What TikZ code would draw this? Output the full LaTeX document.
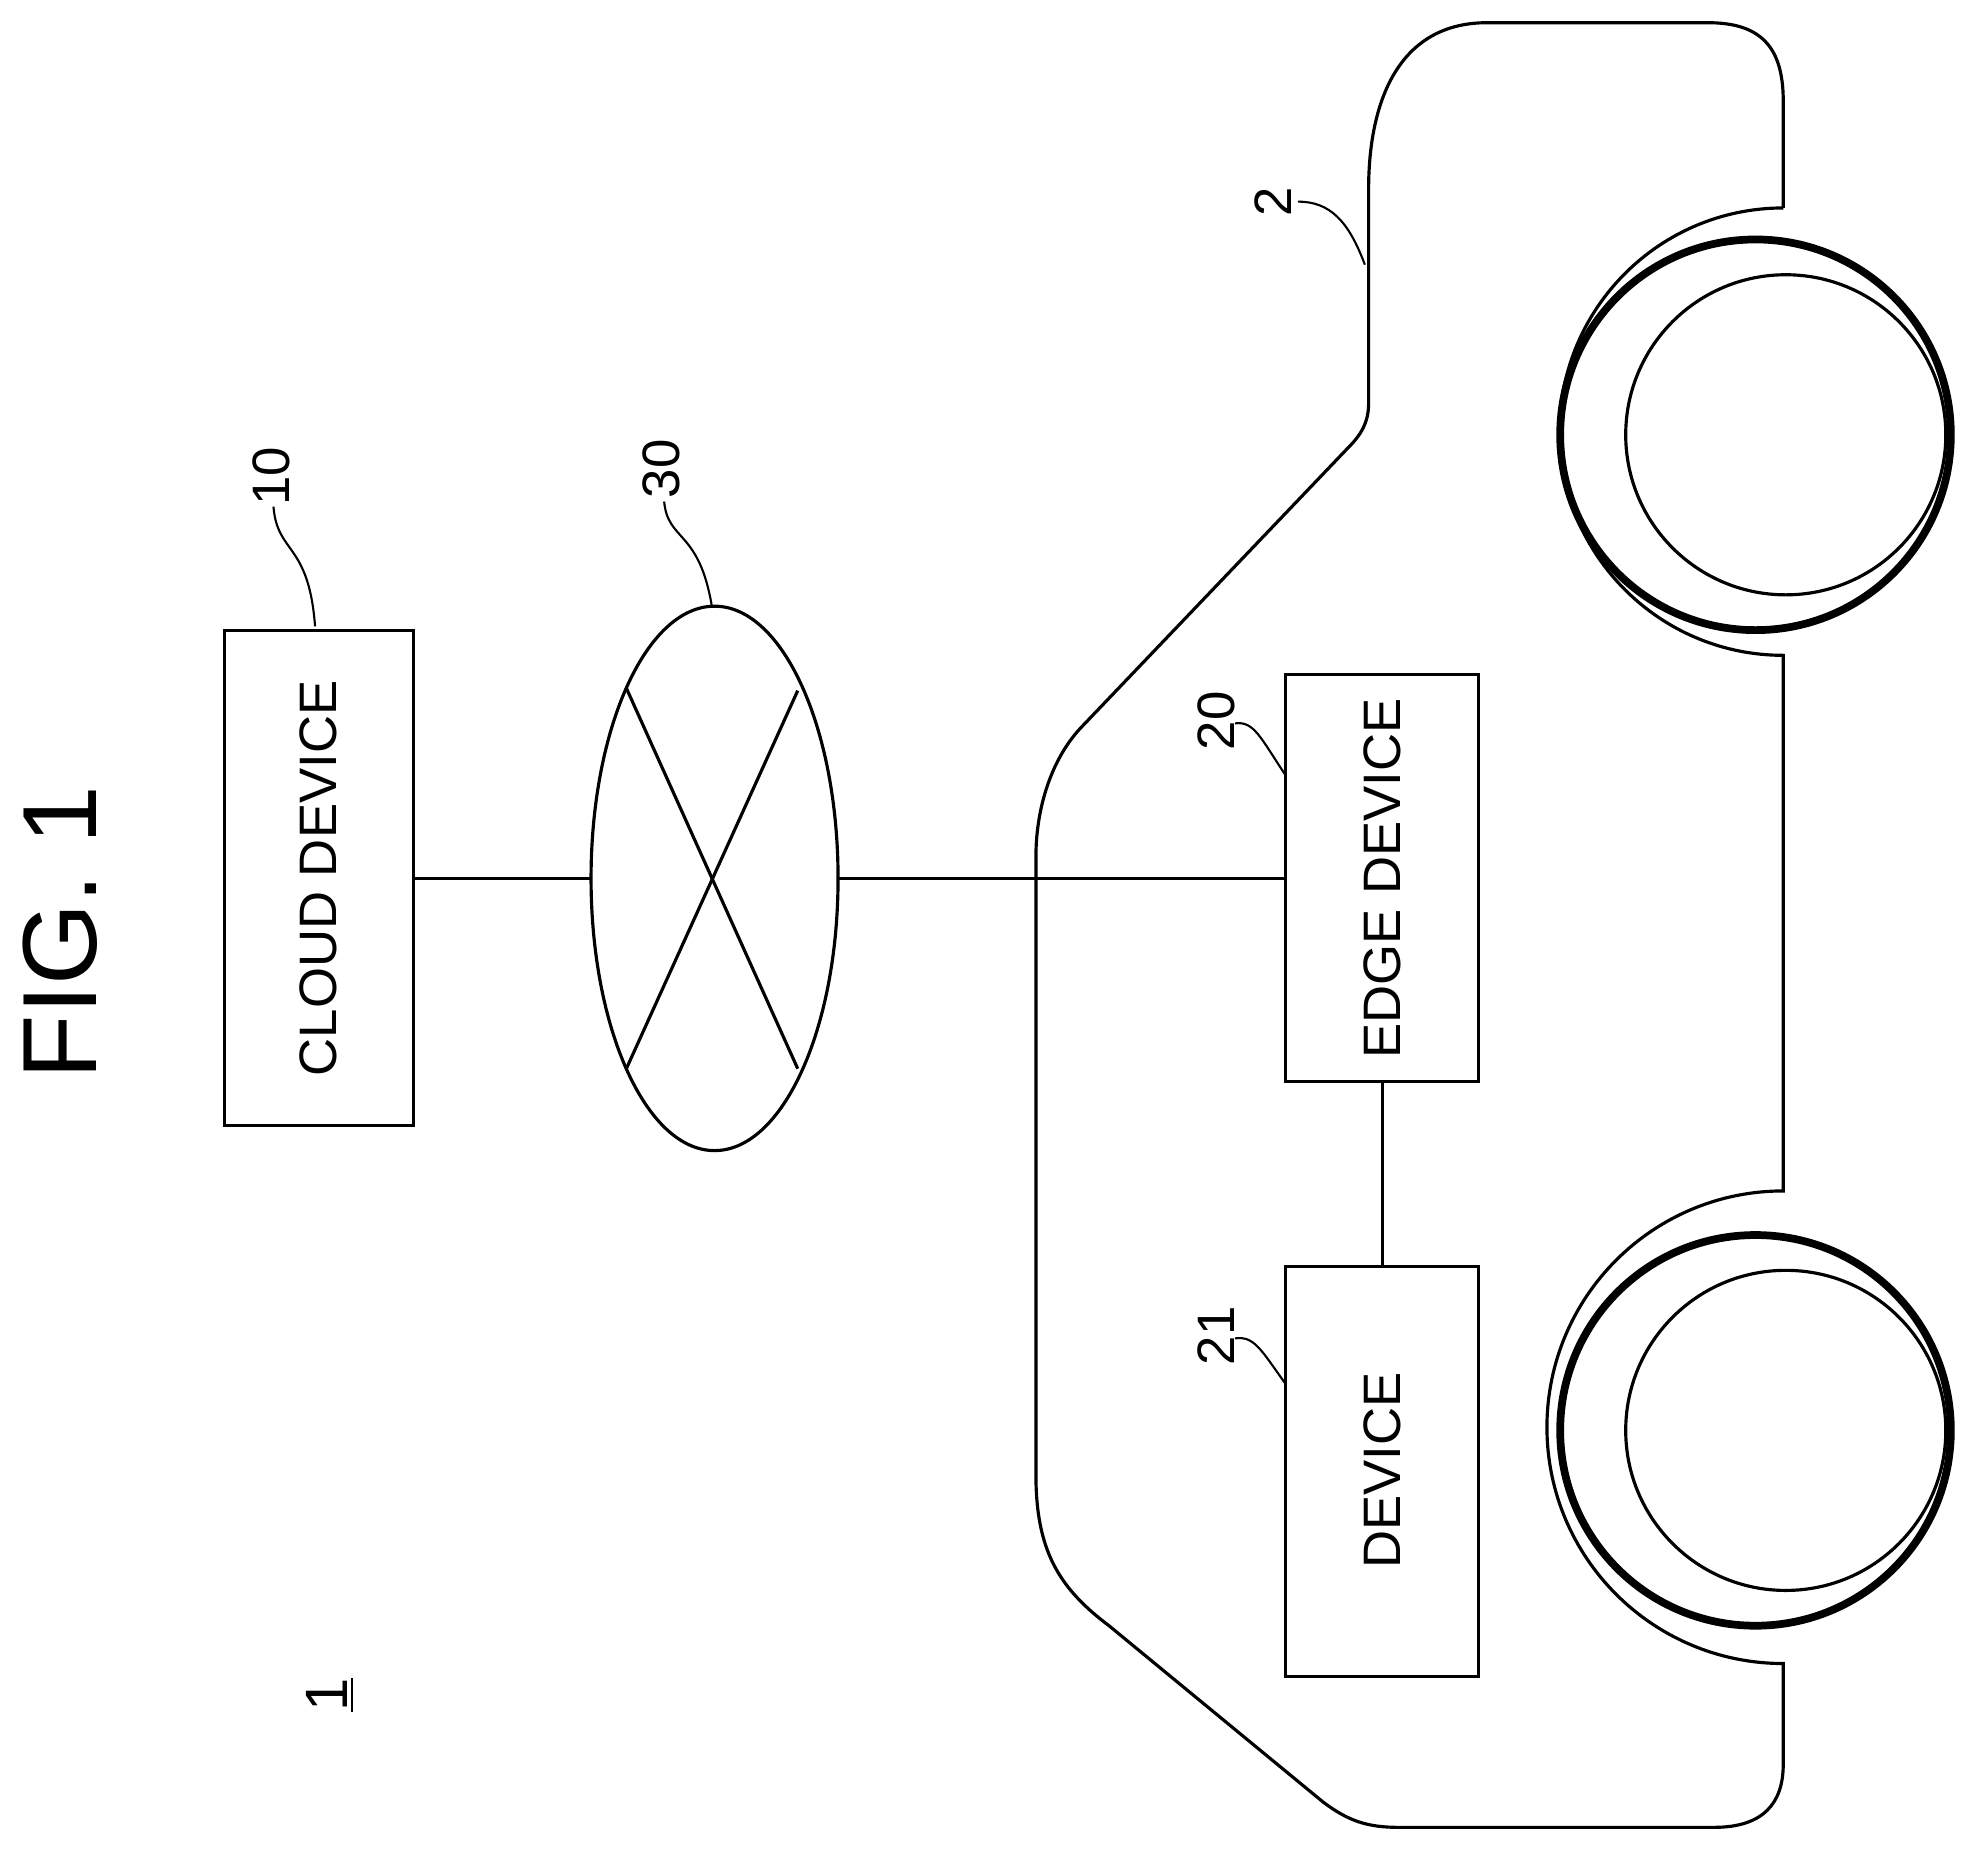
\documentclass[tikz,border=0pt]{standalone}
\usepackage{fontspec}
\setmainfont{Liberation Sans}
\begin{document}
\begin{tikzpicture}[x=0.0126cm,y=-0.0126cm,line width=0.9pt,
  lbl/.style={font=\fontsize{15}{18}\selectfont,rotate=90},
  lead/.style={line width=0.6pt}]
\useasboundingbox (0,0) rectangle (1564,1481);
\node[font=\fontsize{30}{34}\selectfont,rotate=90] (fig) at (48,740) {FIG. 1};
\node[rotate=90,font=\fontsize{17}{20}\selectfont] (one) at (262,1345) {\underline{1}};
% boxes
\draw (178,500) rectangle (328,893);
\coordinate (cl) at (328,697);
\node[lbl] (cloud) at (253,697) {CLOUD DEVICE};
\draw (1020,535) rectangle (1173,858);
\coordinate (el) at (1020,697); \coordinate (eb) at (1097,858);
\node[lbl] (edge) at (1097,697) {EDGE DEVICE};
\draw (1020,1005) rectangle (1173,1330);
\coordinate (dt) at (1097,1005);
\node[lbl] (dev) at (1097,1167) {DEVICE};
% network
\draw (567,697) ellipse [x radius=98, y radius=216];
\coordinate (nl) at (469,697); \coordinate (nr) at (665,697);
\draw (497,848) -- (633,548);
\draw (497,546) -- (633,848);
\draw (cl) -- (nl);
\draw (nr) -- (el);
\draw (eb) -- (dt);
% labels
\node[lbl] (l10) at (215,378) {10};
\draw[lead] (250,497) .. controls (245,430) and (220,440) .. (217,402);
\node[lbl] (l30) at (525,372) {30};
\draw[lead] (565,482) .. controls (555,420) and (530,430) .. (527,398);
\node[lbl] (l20) at (965,572) {20};
\draw[lead] (1020,615) .. controls (1000,585) and (995,572) .. (980,574);
\node[lbl] (l21) at (965,1060) {21};
\draw[lead] (1020,1098) .. controls (1000,1070) and (995,1060) .. (980,1062);
\node[lbl] (l2) at (1010,160) {2};
\draw[lead] (1083,210) .. controls (1070,175) and (1055,160) .. (1030,160);
% car body
\draw (1415,165) -- (1415,80) .. controls (1415,35) and (1395,18) .. (1355,18)
  -- (1180,18) .. controls (1110,18) and (1086,80) .. (1086,150)
  -- (1086,320) .. controls (1086,335) and (1080,345) .. (1070,355)
  -- (860,575) .. controls (835,600) and (822,640) .. (822,680)
  -- (822,1170) .. controls (822,1230) and (840,1260) .. (880,1290)
  -- (1050,1430) .. controls (1070,1445) and (1085,1450) .. (1110,1450)
  -- (1360,1450) .. controls (1400,1450) and (1415,1430) .. (1415,1400)
  -- (1415,1320)
  arc[start angle=90,end angle=270,radius=187.5]
  -- (1415,520)
  arc[start angle=90,end angle=270,radius=177.5];
% wheels
\draw[line width=2.2pt] (1393,345) circle [radius=155];
\draw (1417,345) circle [radius=127];
\draw[line width=2.2pt] (1393,1135) circle [radius=155];
\draw (1417,1135) circle [radius=127];
\end{tikzpicture}
\end{document}
